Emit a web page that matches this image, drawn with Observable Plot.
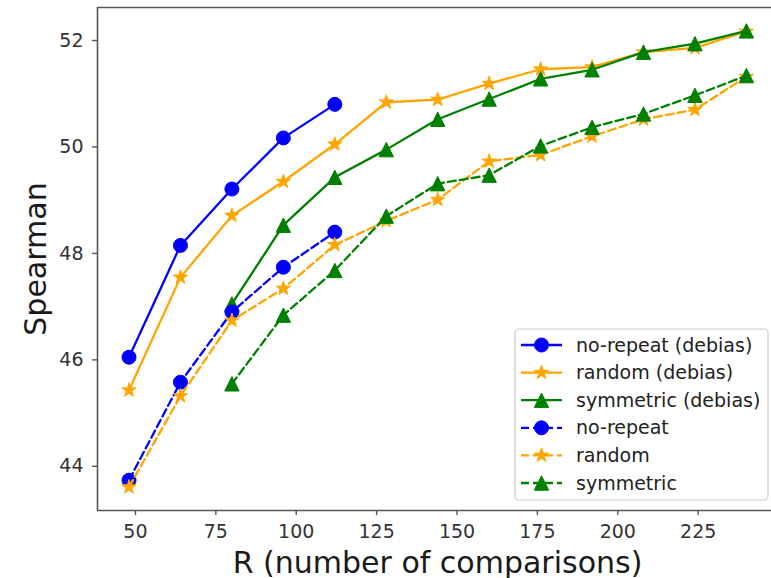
<!DOCTYPE html>
<html>
<head>
<meta charset="utf-8">
<script src="https://cdn.jsdelivr.net/npm/d3@7"></script>
<script src="https://cdn.jsdelivr.net/npm/@observablehq/plot@0.6"></script>
<style>
  html, body { margin: 0; padding: 0; background: #fff; }
  svg { display: block; }
</style>
</head>
<body>
<div id="chart"></div>
<script>
// ---- data ----
const R = [48, 64, 80, 96, 112, 128, 144, 160, 176, 192, 208, 224, 240];
const noRepeatDebias  = [46.05, 48.15, 49.21, 50.17, 50.80];
const randomDebias    = [45.43, 47.55, 48.71, 49.35, 50.05, 50.84, 50.89, 51.19, 51.46, 51.50, 51.78, 51.86, 52.17];
const symmetricDebias = [47.05, 48.53, 49.43, 49.95, 50.52, 50.90, 51.28, 51.45, 51.78, 51.94, 52.18]; // from R=80
const noRepeat        = [43.74, 45.58, 46.90, 47.74, 48.40];
const random          = [43.61, 45.32, 46.74, 47.34, 48.16, 48.61, 49.01, 49.73, 49.85, 50.20, 50.52, 50.70, 51.32];
const symmetric       = [45.55, 46.84, 47.68, 48.70, 49.31, 49.47, 50.02, 50.37, 50.62, 50.97, 51.34]; // from R=80
const seriesNames = ["no-repeat (debias)", "random (debias)", "symmetric (debias)", "no-repeat", "random", "symmetric"];
const seriesValues = [noRepeatDebias, randomDebias, symmetricDebias, noRepeat, random, symmetric];
const seriesStart = [0, 0, 2, 0, 0, 2];
const xTicks = [50, 75, 100, 125, 150, 175, 200, 225];
const yTicks = [44, 46, 48, 50, 52];
const xLabel = "R (number of comparisons)";
const yLabel = "Spearman";

// ---- styles ----
const colors = ["blue", "orange", "green", "blue", "orange", "green"];
const dashes = [null, null, null, "8,4", "8,4", "8,4"];
const triangleSym = {draw(ctx, size) {
  const r = Math.sqrt(size / Math.PI);
  ctx.moveTo(0, -r); ctx.lineTo(r, r); ctx.lineTo(-r, r); ctx.closePath();
}};
const starSym = {draw(ctx, size) {
  const r = Math.sqrt(size / Math.PI), ri = r * 0.381966;
  for (let i = 0; i < 10; i++) {
    const a = -Math.PI / 2 + i * Math.PI / 5, rr = i % 2 ? ri : r;
    const px = rr * Math.cos(a), py = rr * Math.sin(a);
    if (i === 0) ctx.moveTo(px, py); else ctx.lineTo(px, py);
  }
  ctx.closePath();
}};
const symbols = ["circle", starSym, triangleSym, "circle", starSym, triangleSym];
const radii = [7, 7.5, 7.2, 7, 7.5, 7.2];

const series = seriesNames.map((name, k) => ({
  name,
  rows: seriesValues[k].map((v, i) => ({R: R[i + seriesStart[k]], value: v}))
}));

const xDomain = [38.2, 247.8];
const yDomain = [43.17, 52.62];
const font = "DejaVu Sans, sans-serif";

const marks = [
  Plot.ruleX([xDomain[0]], {stroke: "#555", strokeWidth: 1.6}),
  Plot.ruleY(yDomain, {stroke: "#555", strokeWidth: 1.6}),
  Plot.axisX({ticks: xTicks, tickSize: 5, tickPadding: 9, fontSize: 19, label: null, stroke: "#555", strokeWidth: 1.4, fill: "#333"}),
  Plot.axisY({ticks: yTicks, tickSize: 5, tickPadding: 9, fontSize: 19, label: null, stroke: "#555", strokeWidth: 1.4, fill: "#333"}),
  Plot.text([xLabel], {frameAnchor: "bottom", lineAnchor: "middle", textAnchor: "middle", dy: 52.4, dx: 3, fontSize: 30, fill: "#1a1a1a", text: d => d}),
  Plot.text([yLabel], {frameAnchor: "left", lineAnchor: "middle", textAnchor: "middle", dx: -61, rotate: -90, fontSize: 30, fill: "#1a1a1a", text: d => d})
];
series.forEach((s, k) => {
  marks.push(Plot.line(s.rows, {x: "R", y: "value", stroke: colors[k], strokeWidth: 2.3, strokeDasharray: dashes[k]}));
  marks.push(Plot.dot(s.rows, {x: "R", y: "value", symbol: symbols[k], r: radii[k], fill: colors[k], stroke: colors[k], strokeWidth: 1}));
});

const chart = Plot.plot({
  width: 771, height: 578,
  marginLeft: 97, marginRight: 0, marginTop: 7, marginBottom: 68,
  style: {fontFamily: font, background: "#fff"},
  x: {domain: xDomain, axis: null},
  y: {domain: yDomain, axis: null},
  marks
});
document.getElementById("chart").appendChild(chart);

// ---- legend ----
const svg = d3.select(chart);
const lg = svg.append("g").attr("font-family", font).attr("text-anchor", "start");
const lx = 515, ly = 329, lw = 253, lh = 171;
lg.append("rect").attr("x", lx).attr("y", ly).attr("width", lw).attr("height", lh)
  .attr("rx", 4).attr("fill", "#fff").attr("fill-opacity", 0.8).attr("stroke", "#ccc").attr("stroke-width", 1.2);
seriesNames.forEach((name, k) => {
  const cy = 345 + k * 27.6;
  const g = lg.append("g");
  g.append("line").attr("x1", 521).attr("x2", 562).attr("y1", cy).attr("y2", cy)
    .attr("stroke", colors[k]).attr("stroke-width", 2.3).attr("stroke-dasharray", dashes[k]);
  const size = Math.PI * radii[k] * radii[k];
  const sym = typeof symbols[k] === "string" ? d3.symbolCircle : symbols[k];
  g.append("path").attr("d", d3.symbol(sym, size)()).attr("transform", `translate(541.5,${cy})`)
    .attr("fill", colors[k]).attr("stroke", colors[k]).attr("stroke-width", 1);
  g.append("text").attr("x", 576).attr("y", cy).attr("dy", "0.35em").attr("font-size", 19)
    .attr("text-anchor", "start").attr("fill", "#222").text(name);
});
</script>
</body>
</html>
